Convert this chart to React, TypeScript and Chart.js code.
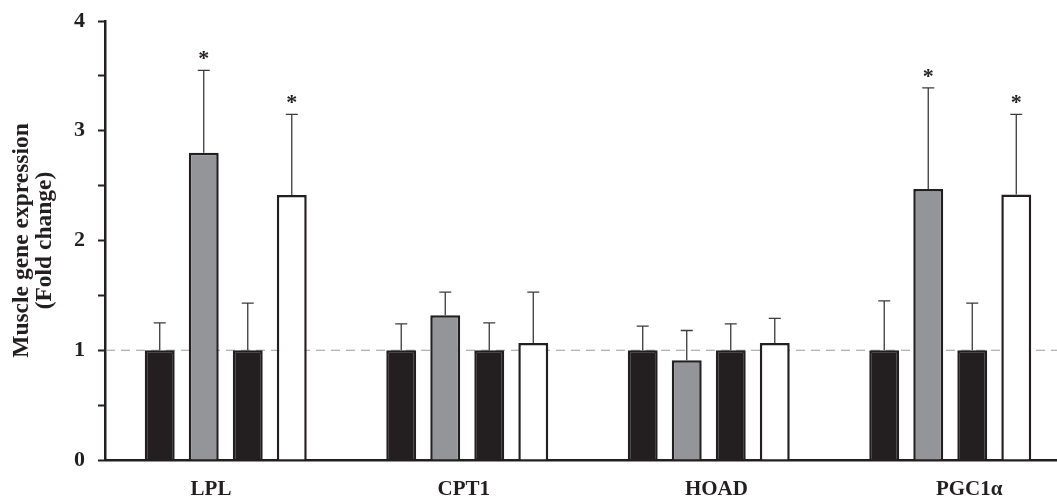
import React, { useEffect, useRef } from "react";
import { Chart, registerables } from "chart.js";

Chart.register(...registerables);

const categories = ["LPL", "CPT1", "HOAD", "PGC1α"];
const seriesNames = ["Group A control", "Group A treated", "Group B control", "Group B treated"];

const s1Values = [1, 1, 1, 1];
const s1Err = [0.25, 0.24, 0.22, 0.45];
const s2Values = [2.8, 1.32, 0.91, 2.47];
const s2Err = [0.75, 0.21, 0.27, 0.92];
const s3Values = [1, 1, 1, 1];
const s3Err = [0.43, 0.25, 0.24, 0.43];
const s4Values = [2.415, 1.065, 1.065, 2.42];
const s4Err = [0.735, 0.465, 0.225, 0.73];

const s2Signif = [true, false, false, true];
const s4Signif = [true, false, false, true];

const yTickValues = [0, 1, 2, 3, 4];
const referenceValue = 1;

const INK = "#231f20";
const FONT = "'Liberation Serif', 'Times New Roman', serif";

const errorsBySeries = [s1Err, s2Err, s3Err, s4Err];
const signifBySeries = [null, s2Signif, null, s4Signif];

const LABEL_MIN = -0.4195;
const LABEL_MAX = 3.403;

const overlayPlugin = {
  id: "overlay",
  beforeDatasetsDraw(chart: any) {
    const { ctx, chartArea, scales } = chart;
    const y = scales.y.getPixelForValue(referenceValue);
    ctx.save();
    ctx.strokeStyle = "#9a9a9a";
    ctx.lineWidth = 1.2;
    ctx.setLineDash([9, 6]);
    ctx.beginPath();
    ctx.moveTo(chartArea.left + 1, y);
    ctx.lineTo(chartArea.right, y);
    ctx.stroke();
    ctx.restore();
  },
  afterDatasetsDraw(chart: any) {
    const { ctx, scales } = chart;
    ctx.save();
    chart.data.datasets.forEach((ds: any, di: number) => {
      const meta = chart.getDatasetMeta(di);
      const errs = errorsBySeries[di];
      const sig = signifBySeries[di];
      meta.data.forEach((el: any, i: number) => {
        const v = ds.data[i];
        const top = scales.y.getPixelForValue(v + errs[i]);
        const base = el.y;
        ctx.strokeStyle = "#3a3a3a";
        ctx.lineWidth = 1.3;
        ctx.setLineDash([]);
        ctx.beginPath();
        ctx.moveTo(el.x, base);
        ctx.lineTo(el.x, top);
        ctx.moveTo(el.x - 6, top);
        ctx.lineTo(el.x + 6, top);
        ctx.stroke();
        if (sig && sig[i]) {
          ctx.fillStyle = INK;
          ctx.font = `bold 22px ${FONT}`;
          ctx.textAlign = "center";
          ctx.textBaseline = "alphabetic";
          ctx.fillText("*", el.x, top - 5);
        }
      });
    });
    ctx.restore();
  },
};

export default function App() {
  const canvasRef = useRef<HTMLCanvasElement | null>(null);

  useEffect(() => {
    if (!canvasRef.current) return;
    Chart.defaults.font.family = FONT;
    const common = {
      borderColor: INK,
      borderWidth: 2.5,
      borderSkipped: "bottom",
      categoryPercentage: 0.729,
      barPercentage: 0.68,
    };
    const chart = new Chart(canvasRef.current, {
      type: "bar",
      data: {
        labels: categories,
        datasets: [
          { label: seriesNames[0], data: s1Values, backgroundColor: INK, ...common },
          { label: seriesNames[1], data: s2Values, backgroundColor: "#939598", ...common },
          { label: seriesNames[2], data: s3Values, backgroundColor: INK, ...common },
          { label: seriesNames[3], data: s4Values, backgroundColor: "#ffffff", ...common },
        ],
      },
      options: {
        animation: false,
        responsive: false,
        devicePixelRatio: 1,
        layout: { padding: { top: 21, right: 4, left: 0, bottom: 0 } },
        plugins: { legend: { display: false }, tooltip: { enabled: false } },
        scales: {
          x: {
            type: "category",
            position: "bottom",
            ticks: { display: false },
            grid: { display: false },
            border: { display: true, color: INK, width: 2.5 },
            afterFit: (s: any) => {
              s.height = 0;
            },
          },
          xl: {
            type: "linear",
            axis: "x",
            position: "bottom",
            offset: false,
            bounds: "data",
            grace: 0,
            min: LABEL_MIN,
            max: LABEL_MAX,
            grid: { display: false, drawTicks: false, offset: false },
            border: { display: false },
            afterDataLimits: (s: any) => {
              s.min = LABEL_MIN;
              s.max = LABEL_MAX;
            },
            afterBuildTicks: (s: any) => {
              s.min = LABEL_MIN;
              s.max = LABEL_MAX;
              s.ticks = categories.map((_, i) => ({ value: i }));
            },
            ticks: {
              autoSkip: false,
              maxRotation: 0,
              padding: 17,
              color: INK,
              font: { size: 21, weight: "bold", family: FONT },
              callback: (v: any) => categories[Math.round(Number(v))] ?? "",
            },
            afterFit: (s: any) => {
              s.height = 39;
              s.paddingLeft = 0;
              s.paddingRight = 0;
            },
          },
          y: {
            min: 0,
            max: 4,
            afterBuildTicks: (s: any) => {
              const t: any[] = [];
              yTickValues.forEach((v, i) => {
                t.push({ value: v });
                if (i < yTickValues.length - 1) t.push({ value: v + 0.5 });
              });
              s.ticks = t;
            },
            ticks: {
              padding: 13,
              color: INK,
              font: { size: 22, weight: "bold", family: FONT },
              callback: (v: any) => (Number.isInteger(Number(v)) ? String(v) : ""),
            },
            grid: {
              drawOnChartArea: false,
              drawTicks: true,
              tickLength: 7,
              tickColor: INK,
              tickWidth: 2,
            },
            border: { display: true, color: INK, width: 2.5 },
            title: {
              display: true,
              text: ["Muscle gene expression", "(Fold change)"],
              color: INK,
              font: { size: 23.5, weight: "bold", family: FONT, lineHeight: 0.95 },
              padding: { top: 11, bottom: 0 },
            },
            afterFit: (s: any) => {
              s.width = 105;
              s.paddingTop = 0;
              s.paddingBottom = 0;
            },
          },
        },
      },
      plugins: [overlayPlugin],
    } as any);
    return () => chart.destroy();
  }, []);

  return (
    <div
      style={{
        position: "fixed",
        left: 0,
        top: 0,
        width: 1057,
        height: 499,
        overflow: "hidden",
        background: "#fff",
      }}
    >
      <canvas ref={canvasRef} width={1075} height={499} style={{ width: 1075, height: 499, display: "block" }} />
    </div>
  );
}
